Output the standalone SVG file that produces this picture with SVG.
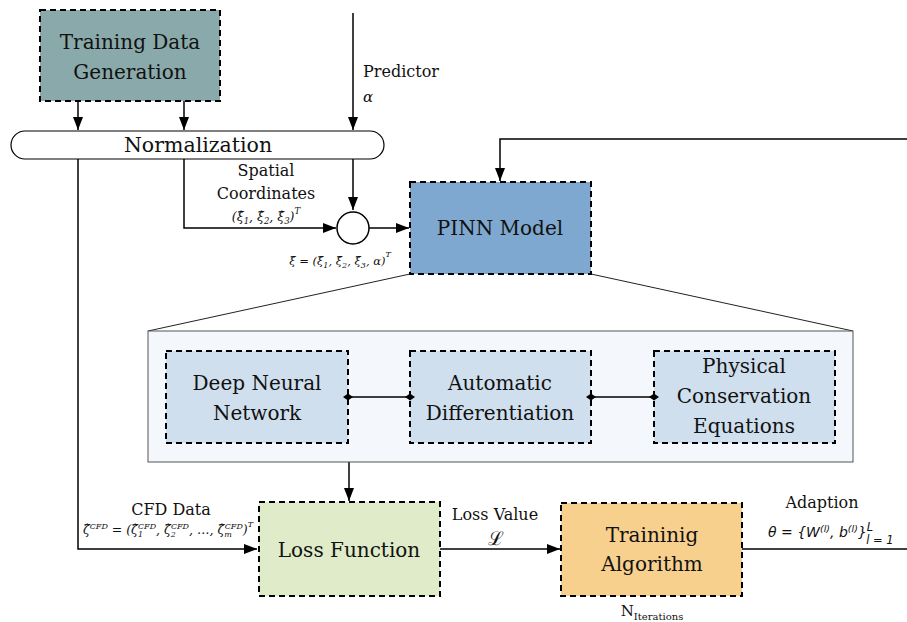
<svg xmlns="http://www.w3.org/2000/svg" width="907" height="622" viewBox="0 0 907 622">
<defs>
<marker id="arr" markerUnits="userSpaceOnUse" markerWidth="14" markerHeight="10" refX="13" refY="5" orient="auto">
<path d="M0,0 L13,5 L0,10 z" fill="#000"/>
</marker>
<marker id="dia" markerUnits="userSpaceOnUse" markerWidth="10" markerHeight="10" refX="5" refY="5" orient="auto">
<path d="M0,5 L5,1.5 L10,5 L5,8.5 z" fill="#000"/>
</marker>
<style>
.box{stroke:#000;stroke-width:2;stroke-dasharray:6 4}
.t{fill:#111;text-anchor:middle}
.big{font-size:20px}
.lab{font-size:16px}
.m{font-style:italic;fill:#111;text-anchor:middle;font-size:11px}
.ln{fill:none;stroke:#000;stroke-width:1.5}
.thin{fill:none;stroke:#222;stroke-width:1}
</style>
</defs>
<rect width="907" height="622" fill="#fff"/>

<g id="connectors">
<line class="ln" x1="78" y1="101" x2="78" y2="130" marker-end="url(#arr)"/>
<line class="ln" x1="184" y1="101" x2="184" y2="130" marker-end="url(#arr)"/>
<line class="ln" x1="353" y1="13" x2="353" y2="130" marker-end="url(#arr)"/>
<polyline class="ln" points="78,159 78,549 257,549" marker-end="url(#arr)"/>
<polyline class="ln" points="184,159 184,228 336,228" marker-end="url(#arr)"/>
<line class="ln" x1="353" y1="159" x2="353" y2="210" marker-end="url(#arr)"/>
<line class="ln" x1="369" y1="228" x2="409" y2="228" marker-end="url(#arr)"/>
<polyline class="ln" points="907,139 500,139 500,181" marker-end="url(#arr)"/>
<line class="thin" x1="410" y1="274" x2="148" y2="331"/>
<line class="thin" x1="591" y1="274" x2="853" y2="331"/>
<line class="ln" x1="349" y1="462" x2="349" y2="501" marker-end="url(#arr)"/>
<line class="ln" x1="440" y1="549" x2="560" y2="549" marker-end="url(#arr)"/>
<line class="ln" x1="742" y1="549" x2="907" y2="549"/>
</g>

<g font-family="'DejaVu Serif', serif">

<g id="training-data-generation">
<rect class="box" x="40" y="10" width="180" height="91" fill="#8aa9aa"/>
<text class="t big" x="130" y="49">Training Data</text>
<text class="t big" x="130" y="79">Generation</text>
</g>

<g id="predictor-label">
<text class="t lab" x="363" y="77" style="text-anchor:start">Predictor</text>
<text class="m" x="363" y="102" style="text-anchor:start;font-size:15px">α</text>
</g>

<g id="normalization">
<rect x="11" y="131" width="373" height="28" rx="14" fill="#fff" stroke="#000" stroke-width="1.2"/>
<text class="t" x="198" y="152" style="font-size:20.5px">Normalization</text>
</g>

<g id="spatial-label">
<text class="t lab" x="266" y="176">Spatial</text>
<text class="t lab" x="266" y="199">Coordinates</text>
<text class="m" x="266" y="221" style="font-size:12.5px">(ξ̂<tspan dy="3" font-size="8.5">1</tspan><tspan dy="-3">, ξ̂</tspan><tspan dy="3" font-size="8.5">2</tspan><tspan dy="-3">, ξ̂</tspan><tspan dy="3" font-size="8.5">3</tspan><tspan dy="-3">)</tspan><tspan dy="-7" font-size="8.5">T</tspan></text>
</g>

<g id="combiner">
<circle cx="353" cy="228" r="16" fill="#fff" stroke="#000" stroke-width="1.5"/>
<text class="m" x="340" y="265" style="font-size:11.5px">ξ̂ = (ξ̂<tspan dy="3" font-size="8">1</tspan><tspan dy="-3">, ξ̂</tspan><tspan dy="3" font-size="8">2</tspan><tspan dy="-3">, ξ̂</tspan><tspan dy="3" font-size="8">3</tspan><tspan dy="-3">, α)</tspan><tspan dy="-8" font-size="8">T</tspan></text>
</g>

<g id="pinn-model">
<rect class="box" x="410" y="182" width="181" height="92" fill="#7ea8cf"/>
<text class="t big" x="500" y="235">PINN Model</text>
</g>

<g id="pinn-detail">
<rect x="148" y="331" width="705" height="131" fill="#f4f8fc" stroke="#555" stroke-width="1"/>
</g>

<g id="deep-neural-network">
<rect class="box" x="166" y="351" width="182" height="92" fill="#cfdfed"/>
<text class="t big" x="257" y="390">Deep Neural</text>
<text class="t big" x="257" y="420">Network</text>
</g>

<g id="automatic-differentiation">
<rect class="box" x="410" y="351" width="181" height="92" fill="#cfdfed"/>
<text class="t big" x="500" y="390">Automatic</text>
<text class="t big" x="500" y="420">Differentiation</text>
</g>

<g id="physical-conservation-equations">
<rect class="box" x="654" y="351" width="181" height="92" fill="#cfdfed"/>
<text class="t big" x="744" y="373">Physical</text>
<text class="t big" x="744" y="403">Conservation</text>
<text class="t big" x="744" y="433">Equations</text>
</g>

<g id="inner-links">
<line class="ln" x1="348" y1="397" x2="410" y2="397" marker-start="url(#dia)" marker-end="url(#dia)"/>
<line class="ln" x1="591" y1="397" x2="654" y2="397" marker-start="url(#dia)" marker-end="url(#dia)"/>
</g>

<g id="cfd-label">
<text class="t lab" x="171" y="515">CFD Data</text>
<text class="m" x="168" y="534" style="font-size:12.5px">ζ̂<tspan dy="-5" font-size="8">CFD</tspan><tspan dy="5"> = (ζ̂</tspan><tspan dy="3" font-size="8">1</tspan><tspan dx="-5" dy="-8" font-size="8">CFD</tspan><tspan dy="5">, ζ̂</tspan><tspan dy="3" font-size="8">2</tspan><tspan dx="-5" dy="-8" font-size="8">CFD</tspan><tspan dy="5">, …, ζ̂</tspan><tspan dy="3" font-size="8">m</tspan><tspan dx="-7" dy="-8" font-size="8">CFD</tspan><tspan dy="5">)</tspan><tspan dy="-7" font-size="8">T</tspan></text>
</g>

<g id="loss-function">
<rect class="box" x="259" y="502" width="181" height="94" fill="#dfebc9"/>
<text class="t big" x="349" y="557">Loss Function</text>
</g>

<g id="loss-label">
<text class="t lab" x="495" y="520">Loss Value</text>
<text class="t" x="496" y="545" style="font-size:19px">ℒ</text>
</g>

<g id="training-algorithm">
<rect class="box" x="561" y="503" width="181" height="93" fill="#f8d08e"/>
<text class="t big" x="652" y="542">Traininig</text>
<text class="t big" x="652" y="571">Algorithm</text>
<text class="t" x="652" y="616" style="font-size:15px">N<tspan dy="4" font-size="10">Iterations</tspan></text>
</g>

<g id="adaption-label">
<text class="t lab" x="822" y="508">Adaption</text>
<text x="768" y="537" font-family="'DejaVu Sans', sans-serif" style="font-size:14px;fill:#111;font-style:italic">θ = {W<tspan dy="-5" font-size="9.5">(l)</tspan><tspan dy="5">, b</tspan><tspan dy="-5" font-size="9.5">(l)</tspan><tspan dy="5">}</tspan><tspan dy="-6" font-size="11.5">L</tspan><tspan dx="-7" dy="13" font-size="11.5">l = 1</tspan></text>
</g>

</g>
</svg>
